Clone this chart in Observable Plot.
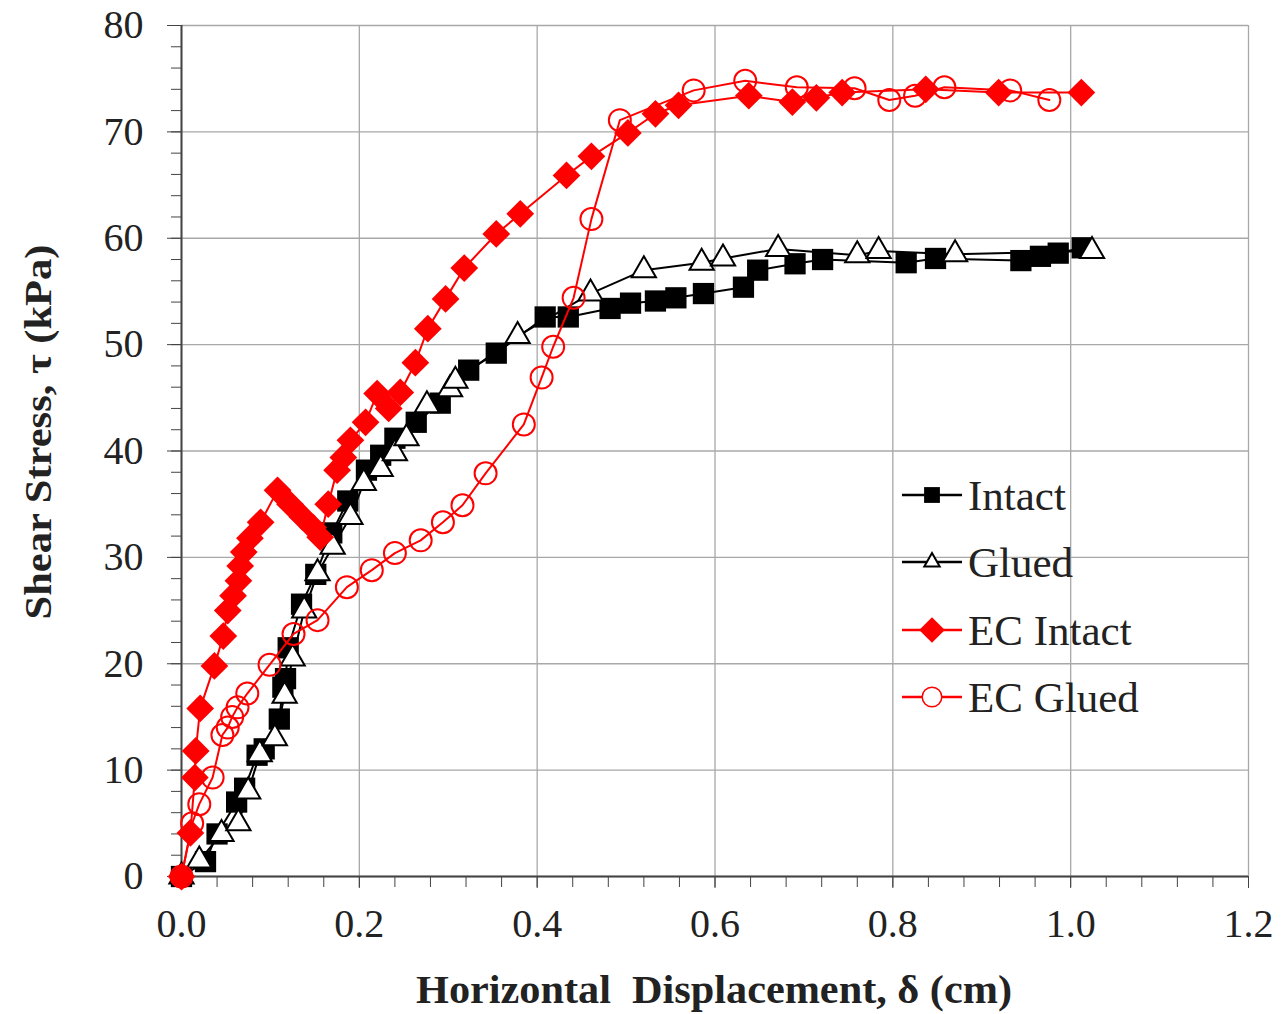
<!DOCTYPE html>
<html>
<head>
<meta charset="utf-8">
<script src="https://cdn.jsdelivr.net/npm/d3@7"></script>
<script src="https://cdn.jsdelivr.net/npm/@observablehq/plot@0.6"></script>
<style>
  html, body { margin: 0; padding: 0; background: #fff; }
  #chart { width: 1282px; height: 1014px; }
</style>
</head>
<body>
<div id="chart"></div>
<script>
// ---- Data ----
const intactX = [0, 0.027, 0.040, 0.062, 0.071, 0.085, 0.093, 0.110, 0.114, 0.117, 0.120, 0.135, 0.151, 0.169, 0.187, 0.208, 0.224, 0.240, 0.264, 0.291, 0.323, 0.354, 0.409, 0.435, 0.482, 0.505, 0.533, 0.556, 0.587, 0.632, 0.648, 0.690, 0.721, 0.815, 0.848, 0.944, 0.966, 0.986, 1.013];
const intactY = [0, 1.4, 4.0, 7.0, 8.3, 11.4, 12.0, 14.8, 17.8, 18.6, 21.5, 25.6, 28.4, 32.3, 35.3, 38.2, 39.6, 41.2, 42.7, 44.5, 47.6, 49.2, 52.6, 52.6, 53.4, 53.9, 54.1, 54.4, 54.8, 55.4, 57.0, 57.6, 58.0, 57.7, 58.1, 57.9, 58.3, 58.6, 59.1];

const gluedX = [0, 0.020, 0.045, 0.064, 0.075, 0.088, 0.105, 0.116, 0.125, 0.138, 0.153, 0.170, 0.190, 0.205, 0.224, 0.240, 0.253, 0.276, 0.302, 0.308, 0.378, 0.460, 0.520, 0.585, 0.609, 0.671, 0.760, 0.784, 0.870, 1.024];
const gluedY = [0, 1.5, 4.0, 5.0, 8.0, 11.5, 13.0, 17.0, 20.5, 25.0, 28.5, 31.0, 33.8, 37.0, 38.3, 39.8, 41.2, 44.3, 45.8, 46.6, 50.8, 54.8, 57.0, 57.7, 58.1, 59.0, 58.4, 58.8, 58.5, 58.8];

const ecIntactX = [0, 0.010, 0.015, 0.016, 0.021, 0.037, 0.047, 0.052, 0.058, 0.064, 0.066, 0.070, 0.077, 0.089, 0.108, 0.122, 0.136, 0.148, 0.156, 0.165, 0.175, 0.182, 0.190, 0.207, 0.220, 0.233, 0.246, 0.263, 0.277, 0.297, 0.318, 0.354, 0.381, 0.433, 0.461, 0.502, 0.533, 0.559, 0.638, 0.687, 0.714, 0.743, 0.837, 0.919, 1.012];
const ecIntactY = [0, 4.1, 9.3, 11.8, 15.8, 19.8, 22.6, 25.0, 26.4, 27.8, 29.2, 30.5, 31.8, 33.3, 36.3, 35.0, 33.8, 32.8, 31.9, 35.0, 38.2, 39.4, 41.0, 42.7, 45.4, 44.0, 45.5, 48.3, 51.5, 54.3, 57.2, 60.4, 62.3, 65.9, 67.7, 69.9, 71.7, 72.5, 73.4, 72.8, 73.2, 73.7, 74.0, 73.7, 73.7];

const ecGluedX = [0, 0.012, 0.020, 0.035, 0.046, 0.052, 0.057, 0.063, 0.074, 0.099, 0.126, 0.153, 0.186, 0.214, 0.240, 0.269, 0.294, 0.316, 0.342, 0.385, 0.405, 0.418, 0.441, 0.461, 0.493, 0.576, 0.634, 0.692, 0.757, 0.796, 0.825, 0.858, 0.932, 0.976];
const ecGluedY = [0, 5.0, 6.8, 9.3, 13.3, 14.0, 15.0, 15.9, 17.2, 19.9, 22.8, 24.1, 27.2, 28.8, 30.4, 31.6, 33.3, 34.9, 37.9, 42.5, 46.9, 49.8, 54.4, 61.8, 71.1, 73.9, 74.8, 74.2, 74.1, 73.0, 73.4, 74.2, 73.9, 73.0];

const seriesNames = ["Intact", "Glued", "EC Intact", "EC Glued"];
const xTicks = [0, 0.2, 0.4, 0.6, 0.8, 1.0, 1.2];
const yTicks = [0, 10, 20, 30, 40, 50, 60, 70, 80];
const xLabel = "Horizontal  Displacement, δ (cm)";
const yLabel = "Shear Stress, τ (kPa)";

const toRows = (xs, ys) => xs.map((x, i) => ({x, y: ys[i]}));
const intact = toRows(intactX, intactY);
const glued = toRows(gluedX, gluedY);
const ecIntact = toRows(ecIntactX, ecIntactY);
const ecGlued = toRows(ecGluedX, ecGluedY);

const RED = "#ff0000";
const SERIF = "'Liberation Serif', 'Times New Roman', serif";
const minorX = d3.range(0, 31).map(i => +(i * 0.04).toFixed(2));
const minorY = d3.range(0, 41).map(i => i * 2);

const chart = Plot.plot({
  width: 1282,
  height: 1014,
  marginLeft: 181,
  marginRight: 34,
  marginTop: 25,
  marginBottom: 138,
  x: {domain: [0, 1.2], label: null},
  y: {domain: [0, 80], label: null},
  style: {fontFamily: SERIF, background: "#fff", color: "#222", overflow: "visible"},
  marks: [
    Plot.gridX(xTicks, {stroke: "#a8a8a8", strokeOpacity: 1, strokeWidth: 1.3}),
    Plot.gridY(yTicks, {stroke: "#a8a8a8", strokeOpacity: 1, strokeWidth: 1.3}),
    Plot.axisY(minorY, {tickSize: 10, tickFormat: () => "", stroke: "#444", label: null}),
    Plot.axisY(yTicks, {tickSize: 14, tickPadding: 24, fontSize: 40, stroke: "#444", label: null}),
    Plot.axisX(minorX, {tickSize: 11, tickFormat: () => "", stroke: "#444", label: null}),
    Plot.axisX(xTicks, {tickSize: 12, tickPadding: 20, fontSize: 40, stroke: "#444", tickFormat: d => d.toFixed(1), label: null}),
    Plot.ruleX([0], {stroke: "#444", strokeWidth: 2}),
    Plot.ruleY([0], {stroke: "#444", strokeWidth: 2}),
    // Intact
    Plot.line(intact, {x: "x", y: "y", stroke: "#000", strokeWidth: 2}),
    Plot.dot(intact, {x: "x", y: "y", symbol: "square", r: 12, fill: "#000", stroke: "none"}),
    // Glued
    Plot.line(glued, {x: "x", y: "y", stroke: "#000", strokeWidth: 2}),
    Plot.dot(glued, {x: "x", y: "y", symbol: "triangle", r: 9, fill: "#fff", stroke: "#000", strokeWidth: 2}),
    // EC Intact
    Plot.line(ecIntact, {x: "x", y: "y", stroke: RED, strokeWidth: 2}),
    Plot.dot(ecIntact, {x: "x", y: "y", symbol: "diamond2", r: 12.5, fill: RED, stroke: "none"}),
    // EC Glued
    Plot.line(ecGlued, {x: "x", y: "y", stroke: RED, strokeWidth: 2}),
    Plot.dot(ecGlued, {x: "x", y: "y", symbol: "circle", r: 11, fill: "none", stroke: RED, strokeWidth: 2})
  ]
});

const svg = d3.select(chart);

// Axis titles
svg.append("text")
  .attr("x", 714).attr("y", 1003)
  .attr("text-anchor", "middle")
  .attr("font-family", SERIF).attr("font-weight", "bold").attr("font-size", 40)
  .attr("fill", "#222")
  .attr("textLength", 596).attr("lengthAdjust", "spacingAndGlyphs")
  .style("white-space", "pre")
  .text(xLabel);

svg.append("text")
  .attr("transform", "translate(51,432) rotate(-90)")
  .attr("text-anchor", "middle")
  .attr("font-family", SERIF).attr("font-weight", "bold").attr("font-size", 38)
  .attr("fill", "#222")
  .attr("textLength", 375).attr("lengthAdjust", "spacingAndGlyphs")
  .text(yLabel);

// Legend
const legendSpec = [
  {name: seriesNames[0], stroke: "#000", symbol: d3.symbolSquare, size: 250, fill: "#000", mstroke: "none", sw: 0},
  {name: seriesNames[1], stroke: "#000", symbol: d3.symbolTriangle2, size: 170, fill: "#fff", mstroke: "#000", sw: 2},
  {name: seriesNames[2], stroke: RED, symbol: d3.symbolDiamond2, size: 420, fill: RED, mstroke: "none", sw: 0},
  {name: seriesNames[3], stroke: RED, symbol: d3.symbolCircle, size: 300, fill: "#fff", mstroke: RED, sw: 1.5}
];
const legendY = [495, 562, 630, 697];
const lg = svg.append("g").attr("text-anchor", "start");
legendSpec.forEach((s, i) => {
  const y = legendY[i];
  lg.append("line").attr("x1", 902).attr("x2", 962).attr("y1", y).attr("y2", y)
    .attr("stroke", s.stroke).attr("stroke-width", 2.5);
  lg.append("path").attr("d", d3.symbol(s.symbol, s.size)())
    .attr("transform", `translate(932,${y})`)
    .attr("fill", s.fill).attr("stroke", s.mstroke).attr("stroke-width", s.sw);
  lg.append("text").attr("x", 968).attr("y", y + 15)
    .attr("text-anchor", "start")
    .attr("font-family", SERIF).attr("font-size", 43).attr("fill", "#222")
    .text(s.name);
});

document.getElementById("chart").appendChild(chart);
</script>
</body>
</html>
